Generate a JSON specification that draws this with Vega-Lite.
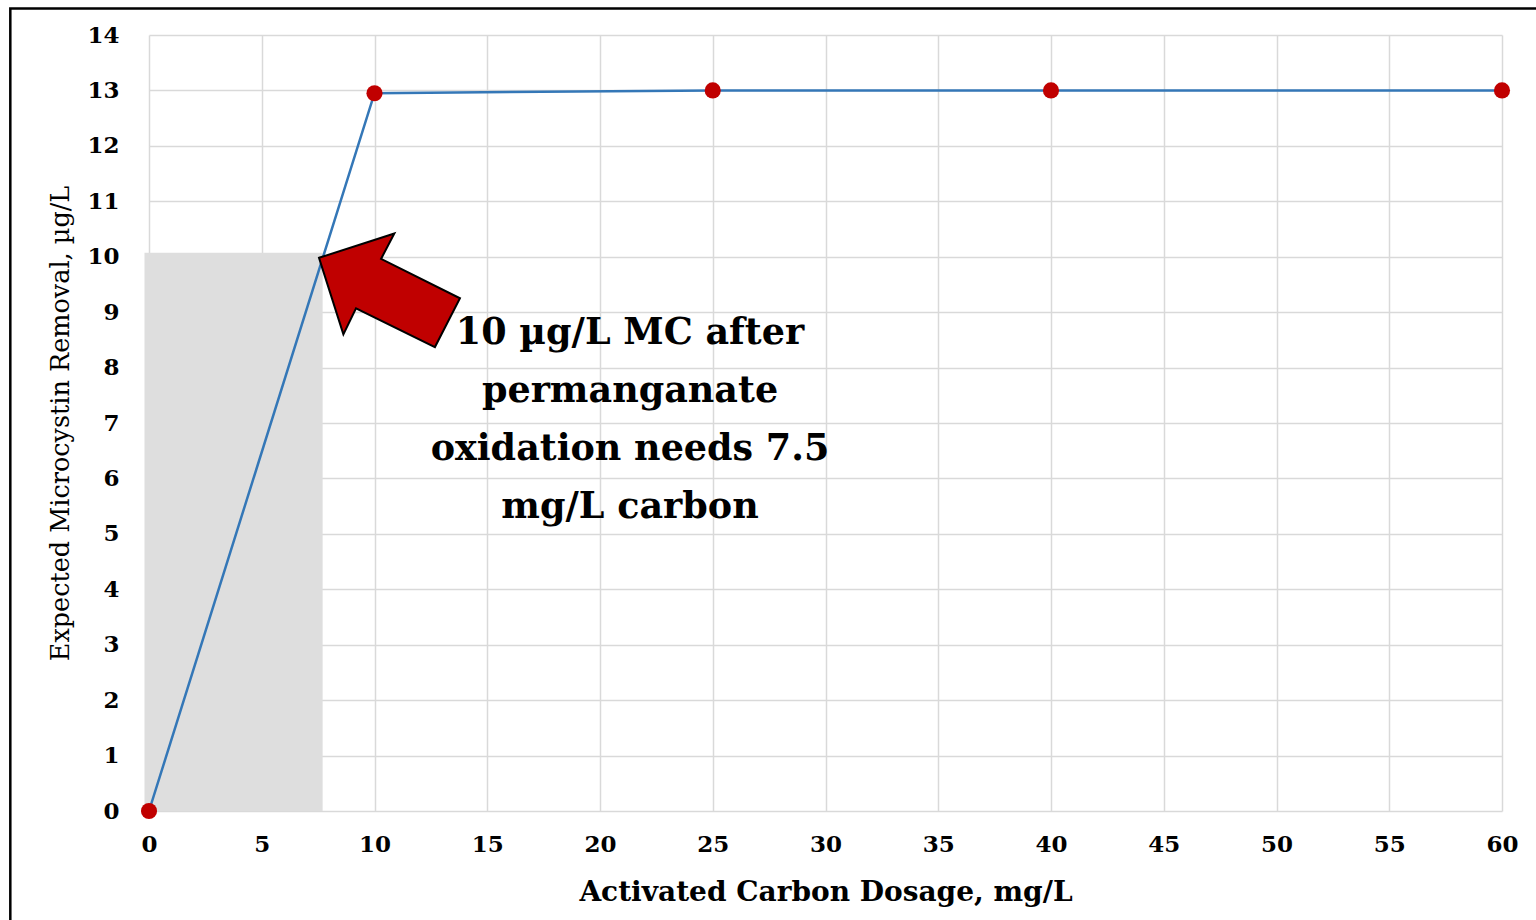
{
  "$schema": "https://vega.github.io/schema/vega-lite/v6.json",
  "width": 1353,
  "height": 776,
  "autosize": "none",
  "padding": {"left": 149, "top": 35, "right": 34, "bottom": 109},
  "background": "white",
  "config": {
    "font": "DejaVu Serif",
    "view": {"stroke": null},
    "axis": {
      "grid": true,
      "gridColor": "#d9d9d9",
      "gridWidth": 1.5,
      "ticks": false,
      "domain": false,
      "labelFlush": false,
      "labelFont": "DejaVu Serif",
      "labelFontSize": 23,
      "labelFontWeight": "bold",
      "labelColor": "black",
      "titleFont": "DejaVu Serif",
      "titleColor": "black"
    }
  },
  "datasets": {
    "series": [
      {"dose": 0, "removal": 0},
      {"dose": 10, "removal": 12.95},
      {"dose": 25, "removal": 13},
      {"dose": 40, "removal": 13},
      {"dose": 60, "removal": 13}
    ],
    "shade": [{"x1": -0.2, "x2": 7.7, "y1": 0, "y2": 10.07}],
    "arrow": [
      {"i": 0, "ax": 7.54, "ay": 9.98},
      {"i": 1, "ax": 10.88, "ay": 10.42},
      {"i": 2, "ax": 10.29, "ay": 9.96},
      {"i": 3, "ax": 13.79, "ay": 9.25},
      {"i": 4, "ax": 12.68, "ay": 8.37},
      {"i": 5, "ax": 9.18, "ay": 9.07},
      {"i": 6, "ax": 8.62, "ay": 8.6},
      {"i": 7, "ax": 7.54, "ay": 9.98}
    ],
    "note": [{"nx": 21.33, "ny": 8.62, "label": "10 µg/L MC after\npermanganate\noxidation needs 7.5\nmg/L carbon"}],
    "frame": [{"fx1": -6.15, "fx2": 61.8, "fy1": -2.2, "fy2": 14.48}]
  },
  "layer": [
    {
      "data": {"name": "frame"},
      "mark": {"type": "rect", "fill": null, "stroke": "black", "strokeWidth": 2.5, "clip": false},
      "encoding": {
        "x": {"field": "fx1", "type": "quantitative", "scale": {"domain": [0, 60]}},
        "x2": {"field": "fx2"},
        "y": {"field": "fy1", "type": "quantitative", "scale": {"domain": [0, 14]}},
        "y2": {"field": "fy2"}
      }
    },
    {
      "data": {"name": "shade"},
      "mark": {"type": "rect", "color": "#dedede", "opacity": 1, "clip": false},
      "encoding": {
        "x": {
          "field": "x1", "type": "quantitative",
          "scale": {"domain": [0, 60], "nice": false, "zero": false},
          "axis": {
            "values": [0, 5, 10, 15, 20, 25, 30, 35, 40, 45, 50, 55, 60],
            "format": "d",
            "labelPadding": 22,
            "title": "Activated Carbon Dosage, mg/L",
            "titleFontSize": 28,
            "titleFontWeight": "bold",
            "titlePadding": 22
          }
        },
        "x2": {"field": "x2"},
        "y": {
          "field": "y1", "type": "quantitative",
          "scale": {"domain": [0, 14], "nice": false},
          "axis": {
            "values": [0, 1, 2, 3, 4, 5, 6, 7, 8, 9, 10, 11, 12, 13, 14],
            "format": "d",
            "labelPadding": 30,
            "title": "Expected Microcystin Removal, µg/L",
            "titleFontSize": 25.5,
            "titleFontWeight": "normal",
            "titlePadding": 13
          }
        },
        "y2": {"field": "y2"}
      }
    },
    {
      "data": {"name": "series"},
      "mark": {"type": "line", "color": "#3477b7", "strokeWidth": 2.5},
      "encoding": {
        "x": {"field": "dose", "type": "quantitative"},
        "y": {"field": "removal", "type": "quantitative"}
      }
    },
    {
      "data": {"name": "series"},
      "mark": {"type": "point", "shape": "circle", "filled": true, "color": "#c00000", "opacity": 1, "size": 260, "clip": false},
      "encoding": {
        "x": {"field": "dose", "type": "quantitative"},
        "y": {"field": "removal", "type": "quantitative"}
      }
    },
    {
      "data": {"name": "arrow"},
      "mark": {"type": "line", "fill": "#c00000", "stroke": "black", "strokeWidth": 2, "strokeJoin": "miter", "interpolate": "linear-closed"},
      "encoding": {
        "x": {"field": "ax", "type": "quantitative"},
        "y": {"field": "ay", "type": "quantitative"},
        "order": {"field": "i", "type": "quantitative"}
      }
    },
    {
      "data": {"name": "note"},
      "mark": {"type": "text", "font": "DejaVu Serif", "fontSize": 36.5, "fontWeight": "bold", "color": "black", "align": "center", "baseline": "middle", "lineBreak": "\n", "lineHeight": 58},
      "encoding": {
        "x": {"field": "nx", "type": "quantitative"},
        "y": {"field": "ny", "type": "quantitative"},
        "text": {"field": "label"}
      }
    }
  ]
}
